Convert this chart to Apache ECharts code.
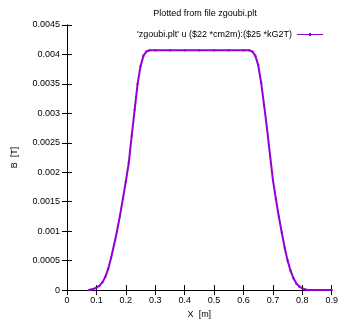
<!DOCTYPE html>
<html><head><meta charset="utf-8">
<script src="https://cdn.jsdelivr.net/npm/echarts@6/dist/echarts.min.js"></script>
<style>html,body{margin:0;padding:0;background:#fff}#c{width:341px;height:324px}</style>
</head><body><div id="c"></div>
<script>
const titleText = "Plotted from file zgoubi.plt";
const seriesName = "'zgoubi.plt' u ($22 *cm2m):($25 *kG2T)";
const xName = "X  [m]";
const yName = "B  [T]";
const xVals = [0.075,0.08,0.09,0.10,0.11,0.12,0.13,0.14,0.15,0.16,0.17,0.18,0.19,0.20,0.21,0.22,0.23,0.24,0.25,0.26,0.27,0.28,0.30,0.35,0.40,0.45,0.50,0.55,0.60,0.62,0.63,0.64,0.65,0.66,0.67,0.68,0.69,0.70,0.71,0.72,0.73,0.74,0.75,0.76,0.77,0.78,0.79,0.80,0.81,0.82,0.84,0.86,0.88,0.90];
const bVals = [0,0.00001,0.00002,0.00004,0.00007,0.00013,0.00022,0.00036,0.00055,0.00077,0.00100,0.00126,0.00155,0.00184,0.00216,0.00262,0.00306,0.00350,0.00380,0.00398,0.00405,0.00407,0.00407,0.00407,0.00407,0.00407,0.00407,0.00407,0.00407,0.00407,0.00405,0.00398,0.00382,0.00352,0.00314,0.00274,0.00230,0.00187,0.00155,0.00125,0.00098,0.00072,0.00050,0.00033,0.00020,0.00011,0.00006,0.00003,0.00001,0,0,0,0,0];
const xTicks = [0,0.1,0.2,0.3,0.4,0.5,0.6,0.7,0.8,0.9];
const yTicks = [0,0.0005,0.001,0.0015,0.002,0.0025,0.003,0.0035,0.004,0.0045];

const font = 'Liberation Sans, Arial, sans-serif';
const ax = {lineStyle:{color:'#000',width:1}};
const chart = echarts.init(document.getElementById('c'));
const data = xVals.map((x,i)=>[x,bVals[i]]);
function fmt(v){ return String(parseFloat(v.toFixed(6))); }
chart.setOption({
  animation:false,
  title:{text:titleText,left:200,textAlign:'center',top:4,textStyle:{fontFamily:font,fontSize:9,fontWeight:'normal',color:'#000'}},
  legend:{right:18,top:30,padding:0,align:'right',itemWidth:26,itemHeight:6,itemGap:4,textStyle:{fontFamily:font,fontSize:9,color:'#000',padding:[0,0,0,0]},
    data:[{name:seriesName,icon:'path://M0,2.5 L12,2.5 L12,1.5 L14,1.5 L14,2.5 L26,2.5 L26,3.5 L14,3.5 L14,4.5 L12,4.5 L12,3.5 L0,3.5 Z'}]},
  grid:{left:67,right:7,top:25,bottom:31,show:false},
  xAxis:[
    {type:'value',min:0,max:0.9,interval:0.1,name:xName,nameLocation:'middle',nameGap:19,nameTextStyle:{fontFamily:font,fontSize:9,color:'#000'},
     axisLine:ax,axisTick:{inside:true,length:5,lineStyle:{color:'#000'}},splitLine:{show:false},
     axisLabel:{fontFamily:font,fontSize:9,color:'#000',margin:6,formatter:fmt}},
    {type:'value',position:'top',min:0,max:0.9,interval:0.1,axisLine:ax,axisTick:{inside:true,length:5,lineStyle:{color:'#000'}},axisLabel:{show:false},splitLine:{show:false}}
  ],
  yAxis:[
    {type:'value',min:0,max:0.0045,interval:0.0005,name:yName,nameLocation:'middle',nameGap:48,nameRotate:90,nameTextStyle:{fontFamily:font,fontSize:9,color:'#000'},
     axisLine:{show:true,lineStyle:{color:'#000',width:1}},axisTick:{show:true,inside:true,length:5,lineStyle:{color:'#000'}},splitLine:{show:false},
     axisLabel:{fontFamily:font,fontSize:9,color:'#000',margin:7,formatter:fmt}},
    {type:'value',position:'right',min:0,max:0.0045,interval:0.0005,axisLine:{show:true,lineStyle:{color:'#000',width:1}},axisTick:{show:true,inside:true,length:5,lineStyle:{color:'#000'}},axisLabel:{show:false},splitLine:{show:false}}
  ],
  series:[{name:seriesName,type:'line',data:data,xAxisIndex:0,yAxisIndex:0,
    lineStyle:{color:'#9400d3',width:2},itemStyle:{color:'#9400d3'},symbol:'rect',symbolSize:2,showSymbol:true,z:3}]
});
</script></body></html>
